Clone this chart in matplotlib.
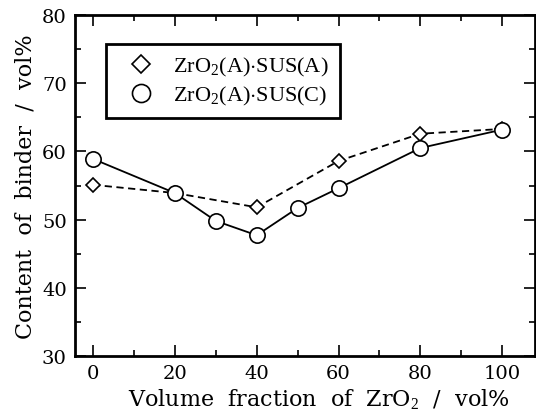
import matplotlib.pyplot as plt
from matplotlib.ticker import MultipleLocator
from matplotlib.lines import Line2D

# data
x_a = [0, 20, 40, 60, 80, 100]
y_a = [55.1, 53.9, 51.8, 58.6, 62.6, 63.3]
x_c = [0, 20, 30, 40, 50, 60, 80, 100]
y_c = [58.9, 53.9, 49.8, 47.7, 51.7, 54.6, 60.5, 63.2]
labels = ['ZrO$_2$(A)$\\cdot$SUS(A)\u2002', 'ZrO$_2$(A)$\\cdot$SUS(C)\u2002']

plt.rcParams['mathtext.fontset'] = 'custom'
plt.rcParams['mathtext.rm'] = 'Liberation Serif'

fig = plt.figure(figsize=(5.36, 4.14), dpi=100)
ax = fig.add_axes([0.14, 0.138, 0.858, 0.823])

ax.plot(x_a, y_a, '--', color='black', lw=1.3, dashes=(4, 2.5),
        marker='D', ms=7, mfc='white', mec='black', mew=1.2)
ax.plot(x_c, y_c, '-', color='black', lw=1.3,
        marker='o', ms=11, mfc='white', mec='black', mew=1.2)

ax.set_xlim(-4.4, 108)
ax.set_ylim(30, 80)
ax.xaxis.set_major_locator(MultipleLocator(20))
ax.xaxis.set_minor_locator(MultipleLocator(10))
ax.yaxis.set_major_locator(MultipleLocator(10))
ax.yaxis.set_minor_locator(MultipleLocator(5))
ax.tick_params(which='both', direction='in', top=True, right=True, width=1.2)
ax.tick_params(which='major', length=8, labelsize=14, pad=6)
ax.tick_params(which='minor', length=4)
for t in ax.get_xticklabels() + ax.get_yticklabels():
    t.set_family('DejaVu Serif')
for s in ax.spines.values():
    s.set_linewidth(2)

ax.set_xlabel('Volume  fraction  of  ZrO$_2$  /  vol%', family='DejaVu Serif',
              fontsize=16)
ax.xaxis.set_label_coords(0.53, -0.09)
ax.set_ylabel('Content  of  binder  /  vol%', family='DejaVu Serif',
              fontsize=16, labelpad=4)

handles = [Line2D([], [], ls='none', marker='D', ms=9, mfc='white', mec='black', mew=1.2),
           Line2D([], [], ls='none', marker='o', ms=13, mfc='white', mec='black', mew=1.2)]
leg = ax.legend(handles, labels, loc='upper left', bbox_to_anchor=(0.043, 0.947), fancybox=False,
                edgecolor='black', framealpha=1, prop={'family': 'Liberation Serif', 'size': 16},
                handlelength=2.2, handletextpad=0.3, borderpad=0.5, labelspacing=0.25)
leg.get_frame().set_linewidth(2)

fig.savefig('out.png', dpi=100)
